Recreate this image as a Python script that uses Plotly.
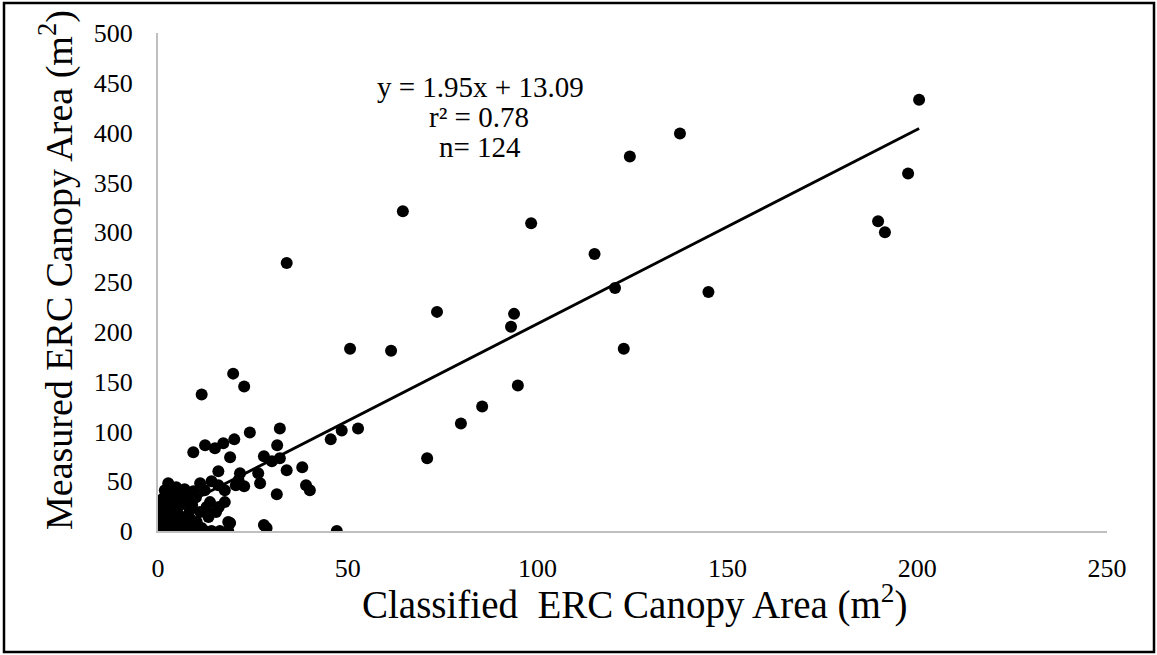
import plotly.graph_objects as go

# Classified (x) vs measured (y) ERC canopy area, m^2
classified = [
    200.5, 137.5, 124.3, 197.6, 64.5, 98.3, 189.7, 191.5, 115.0, 33.9,
    120.4, 145.0, 93.8, 73.5, 93.0, 50.6, 61.4, 122.7, 19.8, 22.7,
    94.8, 11.5, 85.4, 79.8, 70.9, 52.7, 48.4, 45.5, 24.2, 32.1,
    31.4, 27.9, 30.0, 32.1, 33.9, 38.0, 39.0, 40.0, 31.3, 26.9,
    26.4, 21.6, 27.9, 28.6, 47.1, 9.3, 12.4, 15.0, 17.2, 20.1,
    19.0, 15.9, 22.7, 19.0, 20.5, 2.7, 1.8, 11.1, 14.1, 15.9,
    12.3, 17.6, 9.3, 1.4, 4.5, 7.6, 13.7, 17.6, 5.8, 1.0,
    3.2, 8.4, 11.1, 15.3, 0.5, 4.0, 7.1, 13.3, 0.1, 3.2,
    6.7, 10.2, 18.5, 0.8, 2.3, 4.0, 6.1, 8.3, 10.5, 12.3,
    14.1, 16.3, 18.5, 0.3, 1.2, 2.0, 2.5, 3.5, 4.8, 5.5,
    5.2, 6.5, 7.8, 9.0, 10.0, 11.5, 12.8, 0.6, 1.6, 2.8,
    4.2, 6.0, 8.5, 3.0, 0.9, 2.2, 4.6, 9.5, 16.0, 7.0,
    3.8, 1.3, 5.0, 21.2,
]
measured = [
    433, 399, 376, 359, 321, 309, 311, 300, 278, 269,
    244, 240, 218, 220, 205, 183, 181, 183, 158, 145,
    146, 137, 125, 108, 73, 103, 101, 92, 99, 103,
    86, 75, 70, 73, 61, 64, 46, 41, 37, 48,
    58, 58, 6, 3, 0, 79, 86, 83, 88, 92,
    74, 60, 45, 8, 46, 48, 41, 48, 50, 46,
    41, 41, 40, 33, 34, 33, 29, 29, 26, 23,
    21, 21, 19, 19, 13, 14, 14, 14, 6, 6,
    8, 9, 9, 0, 0, 0, 0, 0, 0, 0,
    0, 0, 0, 2, 9, 17, 28, 37, 44, 3,
    18, 30, 5, 26, 34, 3, 24, 30, 4, 11,
    24, 37, 12, 44, 18, 36, 2, 2, 24, 42,
    31, 26, 11, 51,
]

slope = 1.95
intercept = 13.09
fit_x = [min(classified), max(classified)]
fit_y = [slope * v + intercept for v in fit_x]

x_ticks = [0, 50, 100, 150, 200, 250]
y_ticks = [0, 50, 100, 150, 200, 250, 300, 350, 400, 450, 500]

FONT = "Liberation Serif, Times New Roman, serif"

fig = go.Figure()
fig.add_trace(go.Scatter(
    x=classified, y=measured, mode="markers",
    marker=dict(color="black", size=12),
    showlegend=False, hoverinfo="x+y",
))
fig.add_trace(go.Scatter(
    x=fit_x, y=fit_y, mode="lines",
    line=dict(color="black", width=2.8),
    showlegend=False, hoverinfo="skip",
))

L, R, T, B = 158, 50, 33, 124
W, H = 1157, 655
pw, ph = W - L - R, H - T - B

def px(xp):
    return (xp - L) / pw

def py(yp):
    return (H - B - yp) / ph

fig.update_layout(
    width=W, height=H,
    margin=dict(l=L, r=R, t=T, b=B),
    paper_bgcolor="white", plot_bgcolor="white",
    font=dict(family=FONT, color="black"),
    xaxis=dict(
        range=[0, 250], tickvals=x_ticks, showgrid=False, zeroline=False,
        showline=True, linecolor="#bfbfbf", linewidth=2,
        tickfont=dict(family=FONT, size=26, color="black"),
        ticks="", ticklabelstandoff=13,
    ),
    yaxis=dict(
        range=[0, 500], tickvals=y_ticks, showgrid=False, zeroline=False,
        showline=True, linecolor="#bfbfbf", linewidth=2,
        tickfont=dict(family=FONT, size=26, color="black"),
        ticks="", ticklabelstandoff=18,
    ),
    annotations=[
        dict(text="Classified  ERC Canopy Area (m<sup>2</sup>)", xref="paper", yref="paper",
             x=px(635), y=py(602), xanchor="center", yanchor="middle", showarrow=False,
             font=dict(family=FONT, size=39, color="black")),
        dict(text="Measured ERC Canopy Area (m<sup>2</sup>)", xref="paper", yref="paper",
             x=px(56), y=py(270), xanchor="center", yanchor="middle", showarrow=False,
             textangle=-90, font=dict(family=FONT, size=38, color="black")),
        dict(text="y = 1.95x + 13.09", xref="paper", yref="paper",
             x=px(480), y=py(87), xanchor="center", yanchor="middle", showarrow=False,
             font=dict(family=FONT, size=29, color="black")),
        dict(text="r² = 0.78", xref="paper", yref="paper",
             x=px(479), y=py(117), xanchor="center", yanchor="middle", showarrow=False,
             font=dict(family=FONT, size=29, color="black")),
        dict(text="n= 124", xref="paper", yref="paper",
             x=px(480), y=py(147), xanchor="center", yanchor="middle", showarrow=False,
             font=dict(family=FONT, size=29, color="black")),
    ],
    shapes=[
        dict(type="rect", xref="paper", yref="paper",
             x0=px(4), x1=px(1154), y0=py(652), y1=py(3),
             line=dict(color="black", width=2.5), layer="above"),
    ],
)

fig.write_html("out.html")
